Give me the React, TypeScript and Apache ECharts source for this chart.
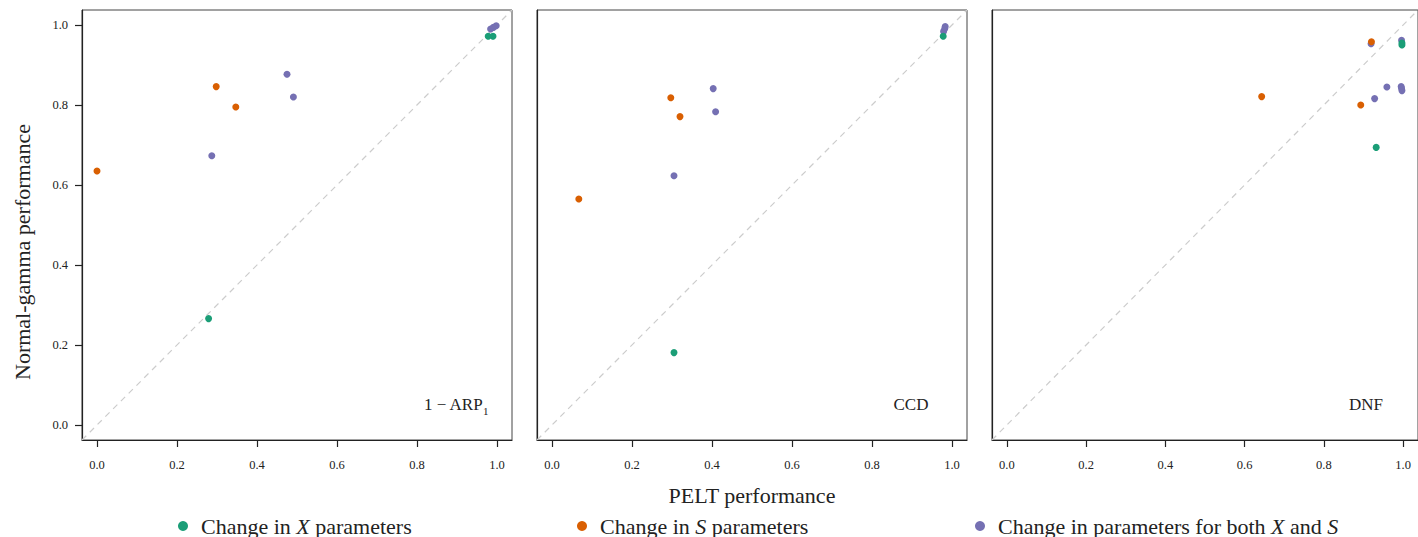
import React, { useEffect, useRef } from 'react';
import * as echarts from 'echarts';

// ---- data ----
const panelNames = ['1 − ARP{sub|1}', 'CCD', 'DNF'];
const tickValues = [0, 0.2, 0.4, 0.6, 0.8, 1.0];
const seriesNames = ['Change in X parameters', 'Change in S parameters', 'Change in parameters for both X and S'];
const xTitle = 'PELT performance';
const yTitle = 'Normal-gamma performance';

const arpX = [[0.279, 0.266], [0.978, 0.972], [0.99, 0.972]];
const arpS = [[0.0, 0.635], [0.298, 0.846], [0.347, 0.795]];
const arpBoth = [[0.287, 0.673], [0.475, 0.877], [0.491, 0.82], [0.984, 0.99], [0.991, 0.994], [0.998, 0.998]];

const ccdX = [[0.305, 0.181], [0.978, 0.972]];
const ccdS = [[0.067, 0.565], [0.297, 0.818], [0.32, 0.771]];
const ccdBoth = [[0.305, 0.623], [0.403, 0.841], [0.409, 0.783], [0.979, 0.984], [0.982, 0.991], [0.983, 0.996]];

const dnfX = [[0.932, 0.694], [0.997, 0.95], [0.997, 0.955]];
const dnfS = [[0.643, 0.821], [0.893, 0.8], [0.92, 0.958]];
const dnfBoth = [[0.919, 0.953], [0.928, 0.816], [0.959, 0.845], [0.995, 0.846], [0.997, 0.836], [0.996, 0.842], [0.996, 0.962]];

const panelData = [
  [arpX, arpS, arpBoth],
  [ccdX, ccdS, ccdBoth],
  [dnfX, dnfS, dnfBoth],
];

const axisMin = -0.0375;
const axisMax = 1.0375;
const diagonal = [[axisMin, axisMin], [axisMax, axisMax]];

const colors = ['#1b9e77', '#d95f02', '#7570b3'];
const FONT = '"Liberation Serif", "DejaVu Serif", serif';

// ---- layout ----
const lefts = [82, 537, 992];
const TOP = 10;
const SIZE = 430;

export default function App() {
  const ref = useRef<HTMLDivElement>(null);
  useEffect(() => {
    if (!ref.current) return;
    const chart = echarts.init(ref.current, undefined, { renderer: 'svg' });

    const grids = lefts.map((l) => ({
      left: l, top: TOP, width: SIZE, height: SIZE,
      show: true, borderColor: '#444', borderWidth: 1, backgroundColor: 'transparent',
    }));

    const xAxes = lefts.map((_, i) => ({
      gridIndex: i, type: 'value', min: axisMin, max: axisMax,
      splitLine: { show: false },
      axisLine: { show: true, onZero: false, lineStyle: { color: '#222', width: 1.2 } },
      axisTick: { show: true, inside: false, length: 7, customValues: tickValues, lineStyle: { color: '#222', width: 1.2 } },
      axisLabel: { customValues: tickValues, formatter: (v: number) => v.toFixed(1), fontFamily: FONT, fontSize: 12.5, color: '#222', margin: 18 },
      name: i === 1 ? xTitle : '',
      nameLocation: 'middle', nameGap: 44,
      nameTextStyle: { fontFamily: FONT, fontSize: 22, color: '#222' },
    }));

    const yAxes = lefts.map((_, i) => ({
      gridIndex: i, type: 'value', min: axisMin, max: axisMax,
      splitLine: { show: false },
      axisLine: { show: true, onZero: false, lineStyle: { color: '#222', width: 1.2 } },
      axisTick: { show: i === 0, inside: false, length: 7, customValues: tickValues, lineStyle: { color: '#222', width: 1.2 } },
      axisLabel: { show: i === 0, customValues: tickValues, formatter: (v: number) => v.toFixed(1), fontFamily: FONT, fontSize: 12.5, color: '#222', margin: 14 },
    }));

    const series: any[] = [];
    panelData.forEach((groups, i) => {
      series.push({
        type: 'line', xAxisIndex: i, yAxisIndex: i, data: diagonal,
        symbol: 'none', silent: true, z: 1,
        lineStyle: { color: '#cccccc', width: 1.2, type: [6, 5] },
      });
      // draw "both" first, then S, then X on top
      [2, 1, 0].forEach((k) => {
        series.push({
          type: 'scatter', name: seriesNames[k], xAxisIndex: i, yAxisIndex: i,
          data: groups[k], symbol: 'circle', symbolSize: 7, z: 3,
          itemStyle: { color: colors[k], opacity: 1 },
        });
      });
    });

    const italicRich = { i: { fontFamily: FONT, fontSize: 22, fontStyle: 'italic', color: '#222' } };
    const fmt = (name: string) =>
      name.replace(/\bX\b/g, '{i|X}').replace(/\bS\b/g, '{i|S}');
    const legendLefts = [178, 577, 975];
    const legends = seriesNames.map((n, k) => ({
      data: [n], left: legendLefts[k], top: 515, orient: 'horizontal', padding: 0,
      icon: 'circle', itemWidth: 10, itemHeight: 10,
      formatter: fmt,
      textStyle: { fontFamily: FONT, fontSize: 22, color: '#222', padding: [0, 0, 0, 8], rich: italicRich },
      selectedMode: false,
    }));

    const graphic: any[] = panelNames.map((t, i) => ({
      type: 'text',
      x: lefts[i] + 374, y: TOP + 394,
      style: {
        text: t, fontFamily: FONT, fontSize: 17, fill: '#222',
        align: 'center', verticalAlign: 'middle',
        rich: { sub: { fontFamily: FONT, fontSize: 11, verticalAlign: 'bottom', padding: [0, 0, -4, 0], fill: '#222' } },
      },
    }));
    graphic.push({
      type: 'text', x: 22, y: 252, rotation: Math.PI / 2,
      style: { text: yTitle, fontFamily: FONT, fontSize: 22, fill: '#222', align: 'center', verticalAlign: 'middle' },
    });

    chart.setOption({
      animation: false,
      backgroundColor: '#fff',
      grid: grids, xAxis: xAxes, yAxis: yAxes, series, legend: legends, graphic,
    });
    return () => chart.dispose();
  }, []);
  return <div ref={ref} style={{ position: 'absolute', left: 0, top: 0, width: 1418, height: 537 }} />;
}
